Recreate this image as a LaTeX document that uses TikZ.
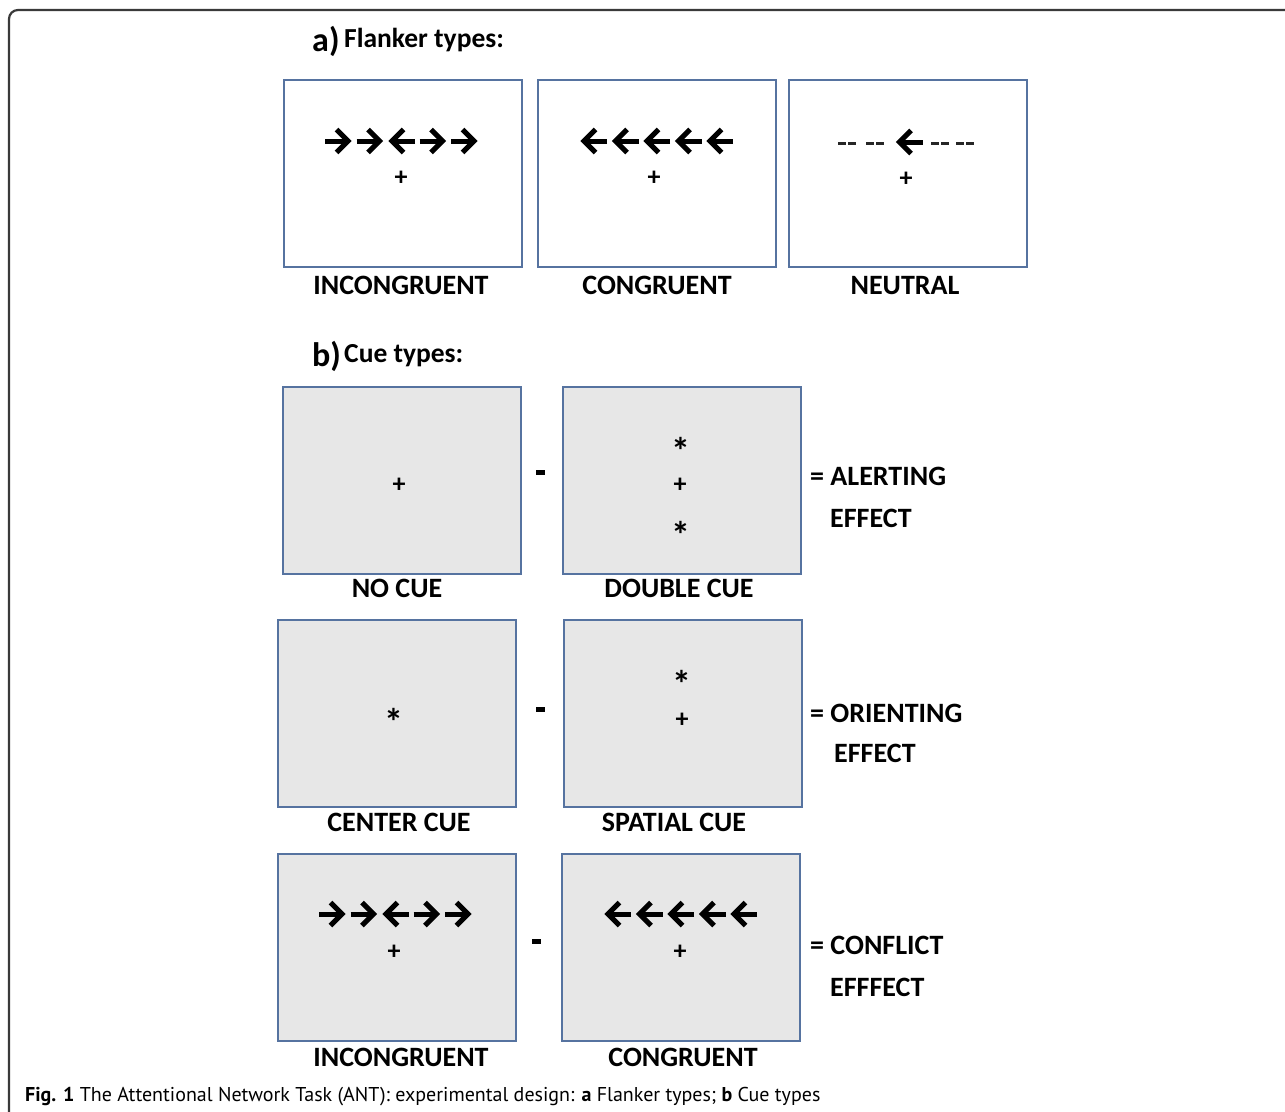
\documentclass[tikz,border=0pt]{standalone}
\usepackage{fontspec}
\setmainfont{Carlito}
\newfontfamily\capfont{PT Sans}
\definecolor{boxblue}{HTML}{5673A0}
\definecolor{cuegray}{HTML}{E7E7E7}
\definecolor{framegray}{HTML}{3A3A3A}
\tikzset{
  stimbox/.style={draw=boxblue, line width=1.8pt, fill=white, minimum width=238pt, minimum height=187pt, inner sep=0pt, anchor=north west},
  cuebox/.style={stimbox, fill=cuegray},
  lab/.style={font=\fontsize{28}{30}\selectfont\bfseries, anchor=base, inner sep=0pt},
  side/.style={font=\fontsize{28}{30}\selectfont\bfseries, anchor=base west, inner sep=0pt},
  title/.style={font=\fontsize{27.5}{30}\selectfont\bfseries, anchor=base west, inner sep=0pt},
  letter/.style={font=\fontsize{34}{36}\selectfont\bfseries, anchor=base west, inner sep=0pt},
  fix/.style={font=\fontsize{26}{28}\selectfont\bfseries, inner sep=0pt},
  star/.style={font=\fontsize{38}{40}\selectfont\bfseries, inner sep=0pt},
  dashbar/.style={fill=black!85, minimum width=8pt, minimum height=3.6pt, inner sep=0pt},
  minus/.style={fill=black, minimum width=9pt, minimum height=5pt, inner sep=0pt},
  rarrow/.pic={\draw[line width=5pt] (-13.5,0) -- (10,0);
               \draw[line width=5pt, line join=miter, miter limit=10] (-2,-11.5) -- (9.5,0) -- (-2,11.5);},
  larrow/.pic={\draw[line width=5pt] (13.5,0) -- (-10,0);
               \draw[line width=5pt, line join=miter, miter limit=10] (2,-11.5) -- (-9.5,0) -- (2,11.5);}
}
\begin{document}
\begin{tikzpicture}[x=1pt,y=-1pt]
\useasboundingbox (0,0) rectangle (1285,1111);
% outer frame
\draw[framegray, line width=2.2pt, rounded corners=9pt] (9,1115) -- (9,10) -- (1290,10);

% ---------- a) Flanker types ----------
\node[letter] (ta) at (312,51) {a)};
\node[title] (tat) at (344,47) {Flanker types:};

\node[stimbox] (f1) at (283,79) {};
\node[stimbox] (f2) at (537,79) {};
\node[stimbox] (f3) at (788,79) {};

\foreach \i/\d in {0/r,1/r,2/l,3/r,4/r} {\pic at (338.5+31.5*\i,141) {\d arrow};}
\node[fix] (p1) at (401,178) {+};
\foreach \i in {0,...,4} {\pic at (593.5+31.5*\i,141) {larrow};}
\node[fix] (p2) at (654,178) {+};
\foreach \x [count=\k] in {842,852,870,880,935,945,960,970} {\node[dashbar] (d\k) at (\x,143.3) {};}
\pic at (909,142) {larrow};
\node[fix] (p3) at (906,179) {+};

\node[lab] (lf1) at (401,294) {INCONGRUENT};
\node[lab] (lf2) at (657,294) {CONGRUENT};
\node[lab] (lf3) at (905,294) {NEUTRAL};

% ---------- b) Cue types ----------
\node[letter] (tb) at (312,366) {b)};
\node[title] (tbt) at (344,362) {Cue types:};

% row 1
\node[cuebox] (c1) at (282,386) {};
\node[cuebox] (c2) at (562,386) {};
\node[fix] (q1) at (399,485) {+};
\node[star] (s1) at (681,451) {*};
\node[fix] (q2) at (680,485) {+};
\node[star] (s2) at (681,535) {*};
\node[minus] (m1) at (540,472) {};
\node[side] (e1) at (810,485) {= ALERTING};
\node[side] (e1b) at (830,527) {EFFECT};
\node[lab] (lc1) at (397,597) {NO CUE};
\node[lab] (lc2) at (679,597) {DOUBLE CUE};

% row 2
\node[cuebox] (c3) at (277,619) {};
\node[cuebox] (c4) at (563,619) {};
\node[star] (s3) at (394,722) {*};
\node[star] (s4) at (682,684) {*};
\node[fix] (q4) at (682,720) {+};
\node[minus] (m2) at (540,709) {};
\node[side] (e2) at (810,722) {= ORIENTING};
\node[side] (e2b) at (834,762) {EFFECT};
\node[lab] (lc3) at (399,831) {CENTER CUE};
\node[lab] (lc4) at (674,831) {SPATIAL CUE};

% row 3
\node[cuebox] (c5) at (277,853) {};
\node[cuebox] (c6) at (561,853) {};
\foreach \i/\d in {0/r,1/r,2/l,3/r,4/r} {\pic at (332.5+31.5*\i,914) {\d arrow};}
\node[fix] (q5) at (394,952) {+};
\foreach \i in {0,...,4} {\pic at (617.5+31.5*\i,914) {larrow};}
\node[fix] (q6) at (680,952) {+};
\node[minus] (m3) at (536,941) {};
\node[side] (e3) at (810,954) {= CONFLICT};
\node[side] (e3b) at (830,996) {EFFFECT};
\node[lab] (lc5) at (401,1066) {INCONGRUENT};
\node[lab] (lc6) at (683,1066) {CONGRUENT};

% caption
\node[font=\capfont\fontsize{20}{22}\selectfont, anchor=base west, inner sep=0pt] (cap) at (25,1101)
  {\textbf{Fig. 1} The Attentional Network Task (ANT): experimental design: \textbf{a} Flanker types; \textbf{b} Cue types};
\end{tikzpicture}
\end{document}
